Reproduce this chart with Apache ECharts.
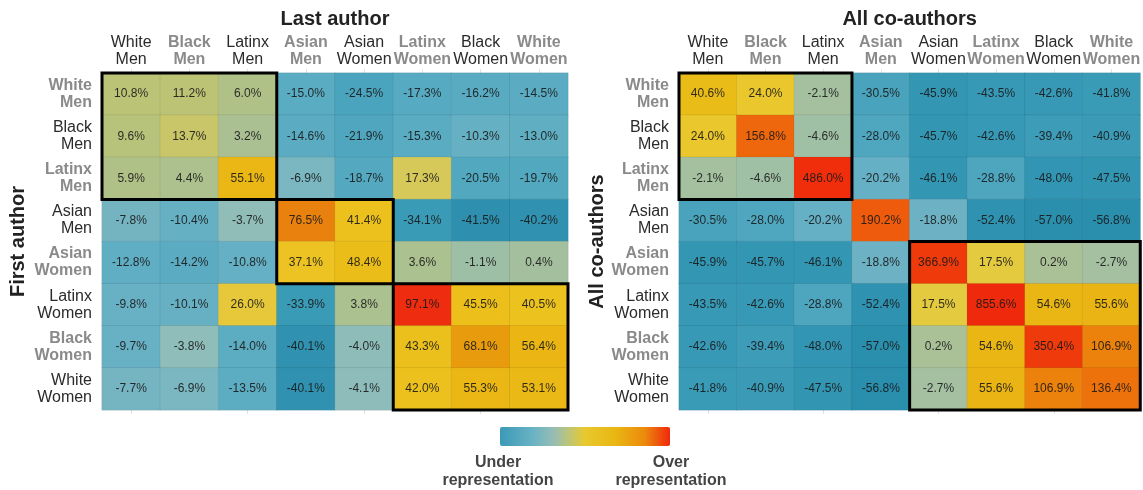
<!DOCTYPE html>
<html>
<head>
<meta charset="utf-8">
<script src="https://cdn.jsdelivr.net/npm/echarts@6/dist/echarts.min.js"></script>
<style>
html,body{margin:0;padding:0;background:#fff;}
#chart{width:1143px;height:490px;}
</style>
</head>
<body>
<div id="chart"></div>
<script>
// ---- categories ----
const groups = ['White Men','Black Men','Latinx Men','Asian Men','Asian Women','Latinx Women','Black Women','White Women'];

// ---- Panel 1: First author (rows) x Last author (cols) ----
const lastWhiteMen   = [10.8, 11.2, 6.0, -15.0, -24.5, -17.3, -16.2, -14.5];
const lastBlackMen   = [9.6, 13.7, 3.2, -14.6, -21.9, -15.3, -10.3, -13.0];
const lastLatinxMen  = [5.9, 4.4, 55.1, -6.9, -18.7, 17.3, -20.5, -19.7];
const lastAsianMen   = [-7.8, -10.4, -3.7, 76.5, 41.4, -34.1, -41.5, -40.2];
const lastAsianWomen = [-12.8, -14.2, -10.8, 37.1, 48.4, 3.6, -1.1, 0.4];
const lastLatinxWomen= [-9.8, -10.1, 26.0, -33.9, 3.8, 97.1, 45.5, 40.5];
const lastBlackWomen = [-9.7, -3.8, -14.0, -40.1, -4.0, 43.3, 68.1, 56.4];
const lastWhiteWomen = [-7.7, -6.9, -13.5, -40.1, -4.1, 42.0, 55.3, 53.1];

// ---- Panel 2: All co-authors x All co-authors ----
const coWhiteMen   = [40.6, 24.0, -2.1, -30.5, -45.9, -43.5, -42.6, -41.8];
const coBlackMen   = [24.0, 156.8, -4.6, -28.0, -45.7, -42.6, -39.4, -40.9];
const coLatinxMen  = [-2.1, -4.6, 486.0, -20.2, -46.1, -28.8, -48.0, -47.5];
const coAsianMen   = [-30.5, -28.0, -20.2, 190.2, -18.8, -52.4, -57.0, -56.8];
const coAsianWomen = [-45.9, -45.7, -46.1, -18.8, 366.9, 17.5, 0.2, -2.7];
const coLatinxWomen= [-43.5, -42.6, -28.8, -52.4, 17.5, 855.6, 54.6, 55.6];
const coBlackWomen = [-42.6, -39.4, -48.0, -57.0, 0.2, 54.6, 350.4, 106.9];
const coWhiteWomen = [-41.8, -40.9, -47.5, -56.8, -2.7, 55.6, 106.9, 136.4];

// ---- highlighted blocks [col0,row0,col1,row1] ----
const lastBlocks = [[0,0,2,2],[3,3,4,4],[5,5,7,7]];
const coBlocks   = [[0,0,2,2],[4,4,7,7]];

const lastRows = [lastWhiteMen,lastBlackMen,lastLatinxMen,lastAsianMen,lastAsianWomen,lastLatinxWomen,lastBlackWomen,lastWhiteWomen];
const coRows   = [coWhiteMen,coBlackMen,coLatinxMen,coAsianMen,coAsianWomen,coLatinxWomen,coBlackWomen,coWhiteWomen];

function toCells(rows){
  const out = [];
  rows.forEach((r, yi) => r.forEach((v, xi) => {
    out.push([xi, yi, v, Math.log(1 + v / 100)]);
  }));
  return out;
}

function hex2rgb(h){ return [parseInt(h.slice(1,3),16),parseInt(h.slice(3,5),16),parseInt(h.slice(5,7),16)]; }
function ramp(anchors, min, max, n){
  const res = [];
  for (let i = 0; i < n; i++){
    const t = min + (max - min) * i / (n - 1);
    let k = 0;
    while (k < anchors.length - 2 && t > anchors[k+1][0]) k++;
    const a = anchors[k], b = anchors[k+1];
    let f = (t - a[0]) / (b[0] - a[0]); f = Math.max(0, Math.min(1, f));
    const ca = hex2rgb(a[1]), cb = hex2rgb(b[1]);
    const c = ca.map((x, j) => Math.round(x + (cb[j] - x) * f));
    res.push('rgb(' + c.join(',') + ')');
  }
  return res;
}

const lastAnchors = [
  [-0.55,'#2c8fad'],[-0.42,'#3a9bb7'],[-0.28,'#4ba4bd'],[-0.16,'#5aacc2'],[-0.10,'#68b1c4'],
  [-0.04,'#8fbdbb'],[0,'#a3bf9e'],[0.10,'#b9c378'],[0.16,'#d8c95a'],[0.23,'#e6c83a'],
  [0.33,'#ecc31f'],[0.44,'#ebb815'],[0.52,'#e99b0e'],[0.57,'#e8800e'],[0.68,'#ee2b0f']
];
const coAnchors = [
  [-0.85,'#2a8ead'],[-0.62,'#3397b4'],[-0.50,'#3d9cb8'],[-0.36,'#4aa3bd'],[-0.25,'#5cadc3'],
  [-0.21,'#6cb3c6'],[-0.05,'#a0c0a6'],[0,'#a8c09a'],[0.16,'#e6cb3e'],[0.22,'#ebc72a'],
  [0.34,'#e9bc16'],[0.44,'#eab614'],[0.73,'#ec810c'],[0.86,'#ee720c'],[0.95,'#ee660c'],
  [1.07,'#ef5a0c'],[1.5,'#ef3c0c'],[1.77,'#f02e0c'],[2.27,'#ef2a0c']
];

const FONT = "'Liberation Sans', Arial, Helvetica, sans-serif";
const DARK = '#2b2b2b', GRAY = '#8a8a8a';

function labelFmt(grayParity){
  return function(value, index){
    const tag = (index % 2 === grayParity) ? 'g' : 'd';
    return value.split(' ').map(w => '{' + tag + '|' + w + '}').join('\n');
  };
}
const rich = {
  d: {fontSize:16, lineHeight:17, color:DARK, fontFamily:FONT},
  g: {fontSize:16, lineHeight:17, color:GRAY, fontWeight:'bold', fontFamily:FONT}
};

function xTop(gridIndex, name){
  return {
    type:'category', gridIndex, position:'top', data:groups,
    name, nameLocation:'middle', nameGap:41,
    nameTextStyle:{fontSize:20, fontWeight:'bold', color:'#222', fontFamily:FONT},
    axisLine:{show:false},
    axisTick:{show:true, alignWithLabel:true, length:4, lineStyle:{color:'#e2e2e2'}},
    axisLabel:{interval:0, margin:5, formatter:labelFmt(1), rich},
    splitLine:{show:false}
  };
}
function xBottom(gridIndex){
  return {
    type:'category', gridIndex, position:'bottom', data:groups,
    axisLine:{show:false}, axisLabel:{show:false},
    axisTick:{show:true, alignWithLabel:true, length:4, lineStyle:{color:'#e2e2e2'}}
  };
}
function yLeft(gridIndex, name, gap){
  return {
    type:'category', gridIndex, inverse:true, data:groups,
    name, nameLocation:'middle', nameGap:gap, nameRotate:90,
    nameTextStyle:{fontSize:20, fontWeight:'bold', color:'#222', fontFamily:FONT},
    axisLine:{show:false}, axisTick:{show:false},
    axisLabel:{interval:0, margin:10, align:'right', formatter:labelFmt(0), rich},
    splitLine:{show:false}
  };
}

function heat(idx, rows){
  return {
    type:'heatmap', xAxisIndex:idx, yAxisIndex:idx, data:toCells(rows),
    itemStyle:{borderColor:'rgba(0,0,0,0.07)', borderWidth:1},
    label:{show:true, fontSize:12, fontFamily:FONT, color:'rgba(25,25,25,0.9)',
      formatter:p => p.value[2].toFixed(1) + '%'},
    emphasis:{disabled:true}
  };
}
function boxes(idx, blocks){
  return {
    type:'custom', xAxisIndex:idx, yAxisIndex:idx, data:blocks, z:10,
    encode:{x:[0,2], y:[1,3]}, silent:true,
    renderItem:function(params, api){
      const p0 = api.coord([api.value(0), api.value(1)]);
      const p1 = api.coord([api.value(2), api.value(3)]);
      const s = api.size([1,1]);
      const x = Math.min(p0[0], p1[0]) - s[0] / 2;
      const y = Math.min(p0[1], p1[1]) - s[1] / 2;
      return {type:'rect',
        shape:{x, y, width:Math.abs(p1[0]-p0[0]) + s[0], height:Math.abs(p1[1]-p0[1]) + s[1]},
        style:{fill:null, stroke:'#000', lineWidth:3}};
    }
  };
}

const chart = echarts.init(document.getElementById('chart'), null, {renderer:'canvas'});
chart.setOption({
  backgroundColor:'#fff',
  animation:false,
  textStyle:{fontFamily:FONT},
  grid:[
    {left:102, top:73, width:466, height:337},
    {left:679, top:73, width:464, height:337}
  ],
  xAxis:[xTop(0,'Last author'), xTop(1,'All co-authors'), xBottom(0), xBottom(1)],
  yAxis:[yLeft(0,'First author',74), yLeft(1,'All co-authors',72)],
  visualMap:[
    {type:'continuous', show:false, seriesIndex:0, dimension:3, min:-0.55, max:0.68,
     inRange:{color:ramp(lastAnchors,-0.55,0.68,80)}},
    {type:'continuous', show:false, seriesIndex:1, dimension:3, min:-0.85, max:2.27,
     inRange:{color:ramp(coAnchors,-0.85,2.27,120)}}
  ],
  series:[heat(0,lastRows), heat(1,coRows), boxes(0,lastBlocks), boxes(1,coBlocks)],
  graphic:[
    {type:'rect', left:500, top:427, shape:{width:170, height:19, r:2},
     style:{fill:{type:'linear', x:0, y:0, x2:1, y2:0, colorStops:[
       {offset:0,color:'#3b9ab7'},{offset:0.2,color:'#6bb3c4'},{offset:0.32,color:'#98bdb2'},
       {offset:0.42,color:'#c4c66c'},{offset:0.5,color:'#e8c92e'},{offset:0.68,color:'#e9b612'},
       {offset:0.85,color:'#ec8a0c'},{offset:1,color:'#f0280c'}]}}},
    {type:'text', x:498, y:454, style:{text:'Under\nrepresentation', align:'center', verticalAlign:'top',
      font:"bold 16px 'Liberation Sans', Arial, sans-serif", lineHeight:18, fill:'#444'}},
    {type:'text', x:671, y:454, style:{text:'Over\nrepresentation', align:'center', verticalAlign:'top',
      font:"bold 16px 'Liberation Sans', Arial, sans-serif", lineHeight:18, fill:'#444'}}
  ]
});
</script>
</body>
</html>
